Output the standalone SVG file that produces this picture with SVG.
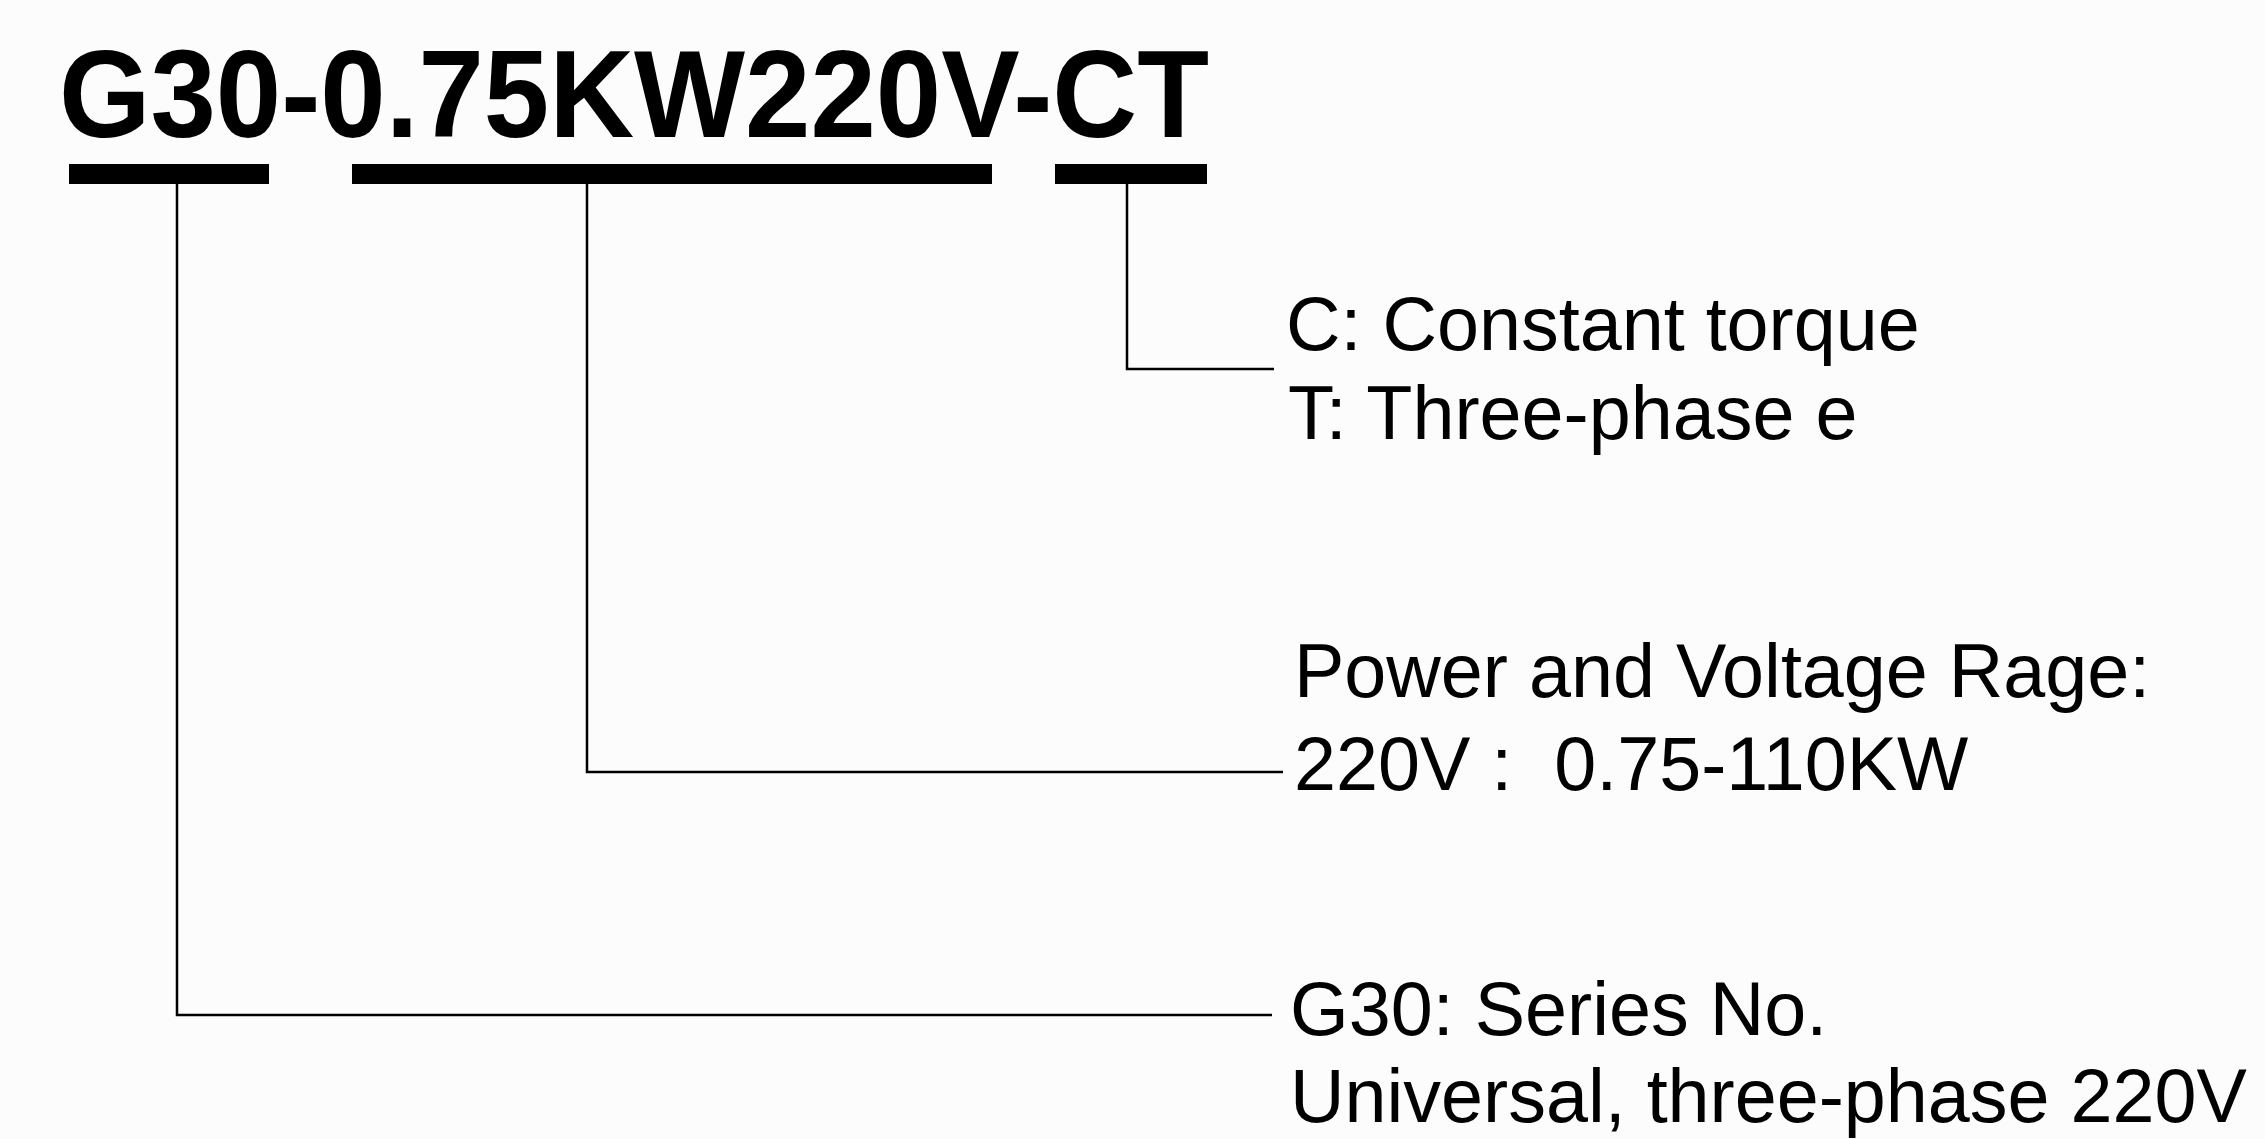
<svg xmlns="http://www.w3.org/2000/svg" width="2265" height="1139" viewBox="0 0 2265 1139">
<style>
.title{font-family:"Liberation Sans",Arial,sans-serif;font-weight:bold;font-size:124px;fill:#000}
.lbl{font-family:"Liberation Sans",Arial,sans-serif;font-size:75.5px;fill:#000}
.bar{fill:#000}
.conn{fill:none;stroke:#000;stroke-width:2.5}
</style>
<rect x="0" y="0" width="2265" height="1139" fill="#fcfcfc"/>
<g id="title">
<text class="title" x="59" y="137" textLength="1150" lengthAdjust="spacingAndGlyphs">G30-0.75KW220V-CT</text>
</g>
<g id="bars">
<rect class="bar" x="69" y="164" width="200" height="20"/>
<rect class="bar" x="352" y="164" width="640" height="20"/>
<rect class="bar" x="1055" y="164" width="152" height="20"/>
</g>
<g id="connectors">
<polyline class="conn" points="1127,184 1127,369 1274,369"/>
<polyline class="conn" points="587,184 587,772 1283,772"/>
<polyline class="conn" points="177,184 177,1015 1272,1015"/>
</g>
<g id="node-ct">
<text class="lbl" x="1286" y="350">C: Constant torque</text>
<text class="lbl" x="1288" y="439">T: Three-phase e</text>
</g>
<g id="node-power">
<text class="lbl" x="1294" y="697">Power and Voltage Rage:</text>
<text class="lbl" x="1294" y="790" xml:space="preserve">220V :  0.75-110KW</text>
</g>
<g id="node-series">
<text class="lbl" x="1290" y="1035">G30: Series No.</text>
<text class="lbl" x="1290" y="1122">Universal, three-phase 220V</text>
</g>
</svg>
